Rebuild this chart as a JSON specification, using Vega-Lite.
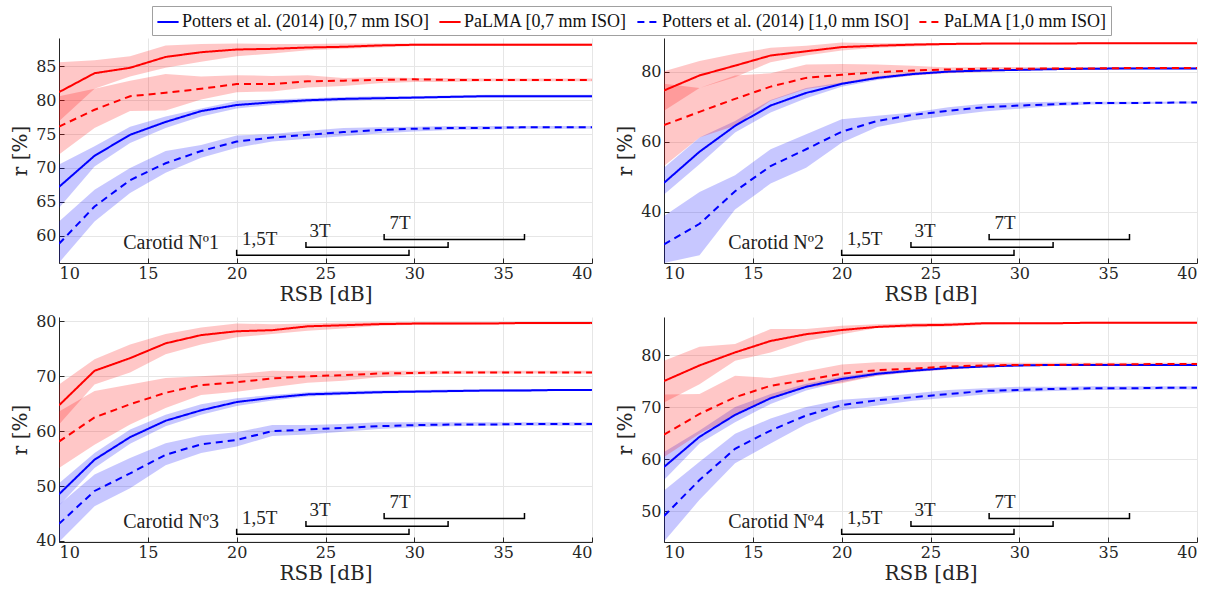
{
"$schema": "https://vega.github.io/schema/vega-lite/v6.json",
"padding": {"left": 10, "top": 5, "right": 5, "bottom": 5},
"datasets": {
"names": [
{"k":"A","s":"Potters et al. (2014) [0,7 mm ISO]"},
{"k":"B","s":"PaLMA [0,7 mm ISO]"},
{"k":"C","s":"Potters et al. (2014) [1,0 mm ISO]"},
{"k":"D","s":"PaLMA [1,0 mm ISO]"}
],
"ann": [
{"b":"a","o":1,"x":20,"f":0.059},{"b":"a","o":2,"x":20,"f":0.034},{"b":"a","o":3,"x":29.7,"f":0.034},{"b":"a","o":4,"x":29.7,"f":0.059},
{"b":"b","o":1,"x":23.9,"f":0.093},{"b":"b","o":2,"x":23.9,"f":0.070},{"b":"b","o":3,"x":31.9,"f":0.070},{"b":"b","o":4,"x":31.9,"f":0.093},
{"b":"c","o":1,"x":28.3,"f":0.129},{"b":"c","o":2,"x":28.3,"f":0.105},{"b":"c","o":3,"x":36.2,"f":0.105},{"b":"c","o":4,"x":36.2,"f":0.129}
],
"lab": [
{"t":"1,5T","x":20.3,"f":0.108},{"t":"3T","x":24.1,"f":0.141},{"t":"7T","x":28.6,"f":0.178}
],
"p1": [
{"k":"A","x":10,"r":67.2,"lo":64.1,"hi":70.5},{"k":"A","x":12,"r":71.8,"lo":70.2,"hi":73.2},{"k":"A","x":14,"r":74.9,"lo":73.7,"hi":76.1},{"k":"A","x":16,"r":76.8,"lo":75.9,"hi":77.6},{"k":"A","x":18,"r":78.4,"lo":77.6,"hi":78.8},{"k":"A","x":20,"r":79.3,"lo":78.8,"hi":79.9},{"k":"A","x":22,"r":79.7,"lo":79.3,"hi":80.1},{"k":"A","x":24,"r":80.0,"lo":79.7,"hi":80.3},{"k":"A","x":26,"r":80.2,"lo":79.9,"hi":80.5},{"k":"A","x":28,"r":80.3,"lo":80.1,"hi":80.6},{"k":"A","x":30,"r":80.4,"lo":80.2,"hi":80.6},{"k":"A","x":32,"r":80.5,"lo":80.3,"hi":80.7},{"k":"A","x":34,"r":80.6,"lo":80.4,"hi":80.8},{"k":"A","x":36,"r":80.6,"lo":80.4,"hi":80.8},{"k":"A","x":38,"r":80.6,"lo":80.4,"hi":80.8},{"k":"A","x":40,"r":80.6,"lo":80.4,"hi":80.8},
{"k":"B","x":10,"r":81.2,"lo":76.9,"hi":85.6},{"k":"B","x":12,"r":84.0,"lo":81.7,"hi":85.9},{"k":"B","x":14,"r":84.8,"lo":83.5,"hi":86.5},{"k":"B","x":16,"r":86.4,"lo":84.8,"hi":88.1},{"k":"B","x":18,"r":87.1,"lo":85.7,"hi":88.3},{"k":"B","x":20,"r":87.5,"lo":86.5,"hi":88.4},{"k":"B","x":22,"r":87.6,"lo":86.9,"hi":88.3},{"k":"B","x":24,"r":87.8,"lo":87.4,"hi":88.3},{"k":"B","x":26,"r":87.9,"lo":87.6,"hi":88.4},{"k":"B","x":28,"r":88.1,"lo":87.8,"hi":88.4},{"k":"B","x":30,"r":88.2,"lo":88.0,"hi":88.4},{"k":"B","x":32,"r":88.2,"lo":88.0,"hi":88.4},{"k":"B","x":34,"r":88.2,"lo":88.0,"hi":88.4},{"k":"B","x":36,"r":88.2,"lo":88.0,"hi":88.4},{"k":"B","x":38,"r":88.2,"lo":88.0,"hi":88.4},{"k":"B","x":40,"r":88.2,"lo":88.0,"hi":88.4},
{"k":"C","x":10,"r":58.8,"lo":56.0,"hi":62.1},{"k":"C","x":12,"r":64.3,"lo":62.1,"hi":66.8},{"k":"C","x":14,"r":68.2,"lo":66.3,"hi":70.0},{"k":"C","x":16,"r":70.7,"lo":69.3,"hi":72.5},{"k":"C","x":18,"r":72.5,"lo":71.5,"hi":73.4},{"k":"C","x":20,"r":73.9,"lo":73.0,"hi":74.8},{"k":"C","x":22,"r":74.5,"lo":73.9,"hi":75.0},{"k":"C","x":24,"r":74.9,"lo":74.3,"hi":75.5},{"k":"C","x":26,"r":75.3,"lo":74.7,"hi":75.9},{"k":"C","x":28,"r":75.6,"lo":75.1,"hi":76.0},{"k":"C","x":30,"r":75.8,"lo":75.4,"hi":76.1},{"k":"C","x":32,"r":75.9,"lo":75.6,"hi":76.2},{"k":"C","x":34,"r":75.9,"lo":75.7,"hi":76.2},{"k":"C","x":36,"r":76.0,"lo":75.8,"hi":76.2},{"k":"C","x":38,"r":76.0,"lo":75.8,"hi":76.2},{"k":"C","x":40,"r":76.0,"lo":75.8,"hi":76.2},
{"k":"D","x":10,"r":76.1,"lo":72.0,"hi":80.6},{"k":"D","x":12,"r":78.6,"lo":75.9,"hi":81.7},{"k":"D","x":14,"r":80.6,"lo":78.4,"hi":82.9},{"k":"D","x":16,"r":81.1,"lo":78.5,"hi":83.9},{"k":"D","x":18,"r":81.7,"lo":80.1,"hi":83.5},{"k":"D","x":20,"r":82.4,"lo":81.2,"hi":83.7},{"k":"D","x":22,"r":82.4,"lo":81.3,"hi":83.6},{"k":"D","x":24,"r":82.8,"lo":81.9,"hi":83.7},{"k":"D","x":26,"r":82.9,"lo":82.1,"hi":83.3},{"k":"D","x":28,"r":83.0,"lo":82.5,"hi":83.4},{"k":"D","x":30,"r":83.1,"lo":82.7,"hi":83.3},{"k":"D","x":32,"r":83.0,"lo":82.7,"hi":83.3},{"k":"D","x":34,"r":83.0,"lo":82.8,"hi":83.2},{"k":"D","x":36,"r":83.0,"lo":82.8,"hi":83.2},{"k":"D","x":38,"r":83.0,"lo":82.8,"hi":83.2},{"k":"D","x":40,"r":83.0,"lo":82.8,"hi":83.2}
],
"p2": [
{"k":"A","x":10,"r":48.2,"lo":44.9,"hi":52.5},{"k":"A","x":12,"r":57.1,"lo":53.5,"hi":61.2},{"k":"A","x":14,"r":64.5,"lo":62.6,"hi":65.9},{"k":"A","x":16,"r":70.3,"lo":68.3,"hi":71.9},{"k":"A","x":18,"r":73.9,"lo":72.4,"hi":75.3},{"k":"A","x":20,"r":76.5,"lo":75.7,"hi":76.9},{"k":"A","x":22,"r":78.2,"lo":77.6,"hi":78.7},{"k":"A","x":24,"r":79.3,"lo":78.9,"hi":79.7},{"k":"A","x":26,"r":80.0,"lo":79.7,"hi":80.3},{"k":"A","x":28,"r":80.3,"lo":80.1,"hi":80.5},{"k":"A","x":30,"r":80.5,"lo":80.3,"hi":80.7},{"k":"A","x":32,"r":80.7,"lo":80.5,"hi":80.9},{"k":"A","x":34,"r":80.8,"lo":80.6,"hi":81.0},{"k":"A","x":36,"r":80.9,"lo":80.7,"hi":81.1},{"k":"A","x":38,"r":80.9,"lo":80.7,"hi":81.1},{"k":"A","x":40,"r":80.9,"lo":80.7,"hi":81.1},
{"k":"B","x":10,"r":74.6,"lo":68.8,"hi":80.1},{"k":"B","x":12,"r":78.9,"lo":75.3,"hi":83.0},{"k":"B","x":14,"r":81.7,"lo":78.4,"hi":85.1},{"k":"B","x":16,"r":84.6,"lo":82.7,"hi":86.8},{"k":"B","x":18,"r":85.8,"lo":84.6,"hi":87.4},{"k":"B","x":20,"r":87.0,"lo":86.0,"hi":88.3},{"k":"B","x":22,"r":87.4,"lo":86.8,"hi":88.1},{"k":"B","x":24,"r":87.7,"lo":87.2,"hi":88.2},{"k":"B","x":26,"r":87.9,"lo":87.5,"hi":88.2},{"k":"B","x":28,"r":88.0,"lo":87.7,"hi":88.2},{"k":"B","x":30,"r":88.0,"lo":87.8,"hi":88.2},{"k":"B","x":32,"r":88.0,"lo":87.8,"hi":88.2},{"k":"B","x":34,"r":88.1,"lo":87.9,"hi":88.3},{"k":"B","x":36,"r":88.1,"lo":87.9,"hi":88.3},{"k":"B","x":38,"r":88.1,"lo":87.9,"hi":88.3},{"k":"B","x":40,"r":88.1,"lo":87.9,"hi":88.3},
{"k":"C","x":10,"r":30.6,"lo":25.3,"hi":38.7},{"k":"C","x":12,"r":36.5,"lo":27.5,"hi":45.6},{"k":"C","x":14,"r":45.8,"lo":40.6,"hi":50.4},{"k":"C","x":16,"r":53.0,"lo":48.0,"hi":57.8},{"k":"C","x":18,"r":57.8,"lo":52.5,"hi":62.1},{"k":"C","x":20,"r":62.8,"lo":59.7,"hi":66.4},{"k":"C","x":22,"r":65.9,"lo":64.2,"hi":67.4},{"k":"C","x":24,"r":67.6,"lo":66.1,"hi":68.3},{"k":"C","x":26,"r":68.8,"lo":67.4,"hi":69.8},{"k":"C","x":28,"r":69.8,"lo":68.6,"hi":70.8},{"k":"C","x":30,"r":70.3,"lo":69.4,"hi":71.2},{"k":"C","x":32,"r":70.7,"lo":70.2,"hi":71.4},{"k":"C","x":34,"r":71.0,"lo":70.6,"hi":71.4},{"k":"C","x":36,"r":71.0,"lo":70.7,"hi":71.4},{"k":"C","x":38,"r":71.1,"lo":70.8,"hi":71.4},{"k":"C","x":40,"r":71.2,"lo":70.9,"hi":71.5},
{"k":"D","x":10,"r":64.7,"lo":53.0,"hi":76.5},{"k":"D","x":12,"r":68.5,"lo":61.2,"hi":75.3},{"k":"D","x":14,"r":72.2,"lo":64.5,"hi":78.9},{"k":"D","x":16,"r":75.7,"lo":71.7,"hi":79.5},{"k":"D","x":18,"r":78.2,"lo":75.0,"hi":82.0},{"k":"D","x":20,"r":79.1,"lo":76.5,"hi":82.2},{"k":"D","x":22,"r":79.8,"lo":77.9,"hi":82.0},{"k":"D","x":24,"r":80.3,"lo":78.9,"hi":81.7},{"k":"D","x":26,"r":80.6,"lo":79.5,"hi":81.2},{"k":"D","x":28,"r":80.8,"lo":79.9,"hi":81.3},{"k":"D","x":30,"r":80.8,"lo":80.3,"hi":81.3},{"k":"D","x":32,"r":80.9,"lo":80.5,"hi":81.3},{"k":"D","x":34,"r":80.9,"lo":80.6,"hi":81.3},{"k":"D","x":36,"r":81.0,"lo":80.7,"hi":81.3},{"k":"D","x":38,"r":81.0,"lo":80.7,"hi":81.3},{"k":"D","x":40,"r":81.0,"lo":80.7,"hi":81.3}
],
"p3": [
{"k":"A","x":10,"r":48.5,"lo":46.4,"hi":50.5},{"k":"A","x":12,"r":54.8,"lo":53.3,"hi":56.0},{"k":"A","x":14,"r":58.9,"lo":57.7,"hi":60.3},{"k":"A","x":16,"r":61.9,"lo":60.9,"hi":63.0},{"k":"A","x":18,"r":63.8,"lo":63.0,"hi":64.9},{"k":"A","x":20,"r":65.3,"lo":64.6,"hi":66.0},{"k":"A","x":22,"r":66.1,"lo":65.6,"hi":66.6},{"k":"A","x":24,"r":66.7,"lo":66.3,"hi":67.1},{"k":"A","x":26,"r":66.9,"lo":66.6,"hi":67.3},{"k":"A","x":28,"r":67.1,"lo":66.8,"hi":67.4},{"k":"A","x":30,"r":67.2,"lo":67.0,"hi":67.5},{"k":"A","x":32,"r":67.3,"lo":67.1,"hi":67.6},{"k":"A","x":34,"r":67.4,"lo":67.2,"hi":67.6},{"k":"A","x":36,"r":67.4,"lo":67.2,"hi":67.7},{"k":"A","x":38,"r":67.5,"lo":67.3,"hi":67.7},{"k":"A","x":40,"r":67.5,"lo":67.3,"hi":67.7},
{"k":"B","x":10,"r":64.7,"lo":61.2,"hi":68.5},{"k":"B","x":12,"r":71.0,"lo":68.5,"hi":73.1},{"k":"B","x":14,"r":73.3,"lo":70.7,"hi":75.8},{"k":"B","x":16,"r":76.0,"lo":74.0,"hi":77.7},{"k":"B","x":18,"r":77.5,"lo":75.8,"hi":78.9},{"k":"B","x":20,"r":78.2,"lo":77.1,"hi":79.6},{"k":"B","x":22,"r":78.4,"lo":77.7,"hi":79.5},{"k":"B","x":24,"r":79.1,"lo":78.3,"hi":79.6},{"k":"B","x":26,"r":79.3,"lo":78.7,"hi":79.8},{"k":"B","x":28,"r":79.5,"lo":79.2,"hi":79.9},{"k":"B","x":30,"r":79.6,"lo":79.4,"hi":79.9},{"k":"B","x":32,"r":79.6,"lo":79.4,"hi":79.9},{"k":"B","x":34,"r":79.6,"lo":79.5,"hi":79.9},{"k":"B","x":36,"r":79.7,"lo":79.5,"hi":79.9},{"k":"B","x":38,"r":79.7,"lo":79.5,"hi":79.9},{"k":"B","x":40,"r":79.7,"lo":79.5,"hi":79.9},
{"k":"C","x":10,"r":43.1,"lo":39.8,"hi":46.6},{"k":"C","x":12,"r":49.1,"lo":46.3,"hi":52.1},{"k":"C","x":14,"r":52.3,"lo":49.6,"hi":55.1},{"k":"C","x":16,"r":55.7,"lo":53.8,"hi":57.8},{"k":"C","x":18,"r":57.6,"lo":56.0,"hi":59.2},{"k":"C","x":20,"r":58.4,"lo":57.2,"hi":59.8},{"k":"C","x":22,"r":60.0,"lo":59.1,"hi":61.1},{"k":"C","x":24,"r":60.3,"lo":59.4,"hi":61.1},{"k":"C","x":26,"r":60.6,"lo":59.9,"hi":61.3},{"k":"C","x":28,"r":60.9,"lo":60.4,"hi":61.6},{"k":"C","x":30,"r":61.1,"lo":60.7,"hi":61.6},{"k":"C","x":32,"r":61.2,"lo":60.9,"hi":61.6},{"k":"C","x":34,"r":61.2,"lo":61.0,"hi":61.6},{"k":"C","x":36,"r":61.3,"lo":61.0,"hi":61.6},{"k":"C","x":38,"r":61.3,"lo":61.0,"hi":61.6},{"k":"C","x":40,"r":61.3,"lo":61.0,"hi":61.6},
{"k":"D","x":10,"r":58.1,"lo":53.3,"hi":63.6},{"k":"D","x":12,"r":62.5,"lo":57.5,"hi":67.3},{"k":"D","x":14,"r":64.9,"lo":61.2,"hi":68.5},{"k":"D","x":16,"r":67.0,"lo":64.2,"hi":69.7},{"k":"D","x":18,"r":68.4,"lo":66.6,"hi":70.0},{"k":"D","x":20,"r":68.9,"lo":67.2,"hi":70.4},{"k":"D","x":22,"r":69.6,"lo":68.0,"hi":71.0},{"k":"D","x":24,"r":70.0,"lo":68.8,"hi":70.9},{"k":"D","x":26,"r":70.2,"lo":69.2,"hi":71.0},{"k":"D","x":28,"r":70.5,"lo":69.8,"hi":71.0},{"k":"D","x":30,"r":70.6,"lo":70.3,"hi":71.0},{"k":"D","x":32,"r":70.7,"lo":70.4,"hi":71.0},{"k":"D","x":34,"r":70.7,"lo":70.5,"hi":71.0},{"k":"D","x":36,"r":70.7,"lo":70.5,"hi":71.0},{"k":"D","x":38,"r":70.7,"lo":70.5,"hi":71.0},{"k":"D","x":40,"r":70.7,"lo":70.5,"hi":71.0}
],
"p4": [
{"k":"A","x":10,"r":58.5,"lo":56.0,"hi":61.4},{"k":"A","x":12,"r":64.3,"lo":63.0,"hi":65.5},{"k":"A","x":14,"r":68.5,"lo":67.1,"hi":70.0},{"k":"A","x":16,"r":71.7,"lo":70.6,"hi":72.5},{"k":"A","x":18,"r":73.9,"lo":73.2,"hi":74.5},{"k":"A","x":20,"r":75.4,"lo":74.8,"hi":75.9},{"k":"A","x":22,"r":76.4,"lo":76.0,"hi":76.8},{"k":"A","x":24,"r":77.0,"lo":76.7,"hi":77.3},{"k":"A","x":26,"r":77.5,"lo":77.2,"hi":77.7},{"k":"A","x":28,"r":77.8,"lo":77.6,"hi":78.0},{"k":"A","x":30,"r":78.0,"lo":77.8,"hi":78.2},{"k":"A","x":32,"r":78.1,"lo":77.9,"hi":78.3},{"k":"A","x":34,"r":78.1,"lo":77.9,"hi":78.3},{"k":"A","x":36,"r":78.1,"lo":77.9,"hi":78.3},{"k":"A","x":38,"r":78.1,"lo":77.9,"hi":78.3},{"k":"A","x":40,"r":78.1,"lo":77.9,"hi":78.3},
{"k":"B","x":10,"r":75.0,"lo":70.9,"hi":78.9},{"k":"B","x":12,"r":78.0,"lo":74.4,"hi":81.6},{"k":"B","x":14,"r":80.5,"lo":78.9,"hi":82.1},{"k":"B","x":16,"r":82.7,"lo":80.5,"hi":85.0},{"k":"B","x":18,"r":84.0,"lo":82.7,"hi":85.0},{"k":"B","x":20,"r":84.8,"lo":84.0,"hi":85.6},{"k":"B","x":22,"r":85.4,"lo":85.2,"hi":85.9},{"k":"B","x":24,"r":85.7,"lo":85.3,"hi":86.1},{"k":"B","x":26,"r":85.8,"lo":85.5,"hi":86.2},{"k":"B","x":28,"r":86.1,"lo":85.8,"hi":86.3},{"k":"B","x":30,"r":86.1,"lo":85.9,"hi":86.3},{"k":"B","x":32,"r":86.1,"lo":85.9,"hi":86.3},{"k":"B","x":34,"r":86.2,"lo":86.0,"hi":86.4},{"k":"B","x":36,"r":86.2,"lo":86.0,"hi":86.4},{"k":"B","x":38,"r":86.2,"lo":86.0,"hi":86.4},{"k":"B","x":40,"r":86.2,"lo":86.0,"hi":86.4},
{"k":"C","x":10,"r":49.1,"lo":44.2,"hi":54.0},{"k":"C","x":12,"r":56.0,"lo":52.2,"hi":59.5},{"k":"C","x":14,"r":62.0,"lo":59.2,"hi":64.9},{"k":"C","x":16,"r":65.5,"lo":63.0,"hi":67.8},{"k":"C","x":18,"r":68.4,"lo":66.7,"hi":70.0},{"k":"C","x":20,"r":70.4,"lo":69.4,"hi":71.4},{"k":"C","x":22,"r":71.3,"lo":70.3,"hi":71.9},{"k":"C","x":24,"r":71.9,"lo":71.2,"hi":72.6},{"k":"C","x":26,"r":72.5,"lo":71.8,"hi":73.3},{"k":"C","x":28,"r":73.1,"lo":72.4,"hi":73.6},{"k":"C","x":30,"r":73.3,"lo":72.9,"hi":73.9},{"k":"C","x":32,"r":73.5,"lo":73.1,"hi":73.9},{"k":"C","x":34,"r":73.6,"lo":73.3,"hi":74.0},{"k":"C","x":36,"r":73.6,"lo":73.3,"hi":74.0},{"k":"C","x":38,"r":73.7,"lo":73.4,"hi":74.0},{"k":"C","x":40,"r":73.7,"lo":73.4,"hi":74.0},
{"k":"D","x":10,"r":64.7,"lo":60.4,"hi":72.4},{"k":"D","x":12,"r":68.7,"lo":64.9,"hi":72.5},{"k":"D","x":14,"r":71.9,"lo":68.4,"hi":76.0},{"k":"D","x":16,"r":74.1,"lo":71.8,"hi":75.6},{"k":"D","x":18,"r":75.2,"lo":73.7,"hi":76.9},{"k":"D","x":20,"r":76.4,"lo":74.6,"hi":78.2},{"k":"D","x":22,"r":77.1,"lo":76.0,"hi":78.6},{"k":"D","x":24,"r":77.4,"lo":76.8,"hi":78.6},{"k":"D","x":26,"r":77.8,"lo":77.2,"hi":78.7},{"k":"D","x":28,"r":78.0,"lo":77.6,"hi":78.6},{"k":"D","x":30,"r":78.1,"lo":77.8,"hi":78.5},{"k":"D","x":32,"r":78.1,"lo":77.9,"hi":78.5},{"k":"D","x":34,"r":78.2,"lo":78.0,"hi":78.5},{"k":"D","x":36,"r":78.2,"lo":78.0,"hi":78.5},{"k":"D","x":38,"r":78.3,"lo":78.0,"hi":78.5},{"k":"D","x":40,"r":78.3,"lo":78.0,"hi":78.5}
]
},
"columns": 2,
"bounds": "flush",
"spacing": {"row": 54, "column": 72},
"concat": [
{"width": 533, "height": 225,
 "resolve": {"scale": {"y": "independent"}, "axis": {"y": "independent"}},
 "layer": [
  {"data": {"name": "p1"},
   "transform": [{"lookup": "k", "from": {"data": {"name": "names"}, "key": "k", "fields": ["s"]}}],
   "layer": [
    {"mark": {"type": "area", "opacity": 0.22, "clip": true},
     "encoding": {
      "x": {"field": "x", "type": "quantitative", "title": "RSB [dB]", "scale": {"domain": [10, 40], "nice": false}, "axis": {"values": [10,15,20,25,30,35,40]}},
      "y": {"field": "lo", "type": "quantitative", "title": "r [%]", "scale": {"domain": [55.96, 89.2], "nice": false, "zero": false}, "axis": {"values": [60,65,70,75,80,85]}},
      "y2": {"field": "hi"},
      "fill": {"field": "k", "type": "nominal", "legend": null, "scale": {"domain": ["A","B","C","D"], "range": ["#0000ff", "#ff0000", "#0000ff", "#ff0000"]}}
     }},
    {"mark": {"type": "line", "strokeWidth": 2, "clip": true},
     "encoding": {
      "x": {"field": "x", "type": "quantitative", "title": "RSB [dB]", "scale": {"domain": [10, 40], "nice": false}},
      "y": {"field": "r", "type": "quantitative", "title": "r [%]", "scale": {"domain": [55.96, 89.2], "nice": false, "zero": false}},
      "color": {"field": "s", "type": "nominal", "title": null, "scale": {"domain": ["Potters et al. (2014) [0,7 mm ISO]", "PaLMA [0,7 mm ISO]", "Potters et al. (2014) [1,0 mm ISO]", "PaLMA [1,0 mm ISO]"], "range": ["#0000ff", "#ff0000", "#0000ff", "#ff0000"]}},
      "strokeDash": {"field": "s", "type": "nominal", "title": null, "scale": {"domain": ["Potters et al. (2014) [0,7 mm ISO]", "PaLMA [0,7 mm ISO]", "Potters et al. (2014) [1,0 mm ISO]", "PaLMA [1,0 mm ISO]"], "range": [[1,0], [1,0], [7,5], [7,5]]}}
     }}
   ]},
  {"layer": [
    {"data": {"name": "ann"}, "mark": {"type": "line", "color": "black", "strokeWidth": 1.5},
     "encoding": {"x": {"field": "x", "type": "quantitative"}, "y": {"field": "f", "type": "quantitative", "scale": {"domain": [0, 1]}, "axis": null}, "detail": {"field": "b"}, "order": {"field": "o"}}},
    {"data": {"name": "lab"}, "mark": {"type": "text", "align": "left", "baseline": "middle", "fontSize": 19, "font": "Liberation Serif", "color": "#222"},
     "encoding": {"x": {"field": "x", "type": "quantitative"}, "y": {"field": "f", "type": "quantitative", "scale": {"domain": [0, 1]}, "axis": null}, "text": {"field": "t"}}},
    {"data": {"values": [{"t": "Carotid Nº1", "x": 19.0, "f": 0.089}]}, "mark": {"type": "text", "align": "right", "baseline": "middle", "fontSize": 20, "font": "Liberation Serif", "color": "#222"},
     "encoding": {"x": {"field": "x", "type": "quantitative"}, "y": {"field": "f", "type": "quantitative", "scale": {"domain": [0, 1]}, "axis": null}, "text": {"field": "t"}}}
  ]}
 ]},
{"width": 533, "height": 225,
 "resolve": {"scale": {"y": "independent"}, "axis": {"y": "independent"}},
 "layer": [
  {"data": {"name": "p2"},
   "transform": [{"lookup": "k", "from": {"data": {"name": "names"}, "key": "k", "fields": ["s"]}}],
   "layer": [
    {"mark": {"type": "area", "opacity": 0.22, "clip": true},
     "encoding": {
      "x": {"field": "x", "type": "quantitative", "title": "RSB [dB]", "scale": {"domain": [10, 40], "nice": false}, "axis": {"values": [10,15,20,25,30,35,40]}},
      "y": {"field": "lo", "type": "quantitative", "title": "r [%]", "scale": {"domain": [25.3, 89.6], "nice": false, "zero": false}, "axis": {"values": [40,60,80]}},
      "y2": {"field": "hi"},
      "fill": {"field": "k", "type": "nominal", "legend": null, "scale": {"domain": ["A","B","C","D"], "range": ["#0000ff", "#ff0000", "#0000ff", "#ff0000"]}}
     }},
    {"mark": {"type": "line", "strokeWidth": 2, "clip": true},
     "encoding": {
      "x": {"field": "x", "type": "quantitative", "title": "RSB [dB]", "scale": {"domain": [10, 40], "nice": false}},
      "y": {"field": "r", "type": "quantitative", "title": "r [%]", "scale": {"domain": [25.3, 89.6], "nice": false, "zero": false}},
      "color": {"field": "s", "type": "nominal", "title": null, "scale": {"domain": ["Potters et al. (2014) [0,7 mm ISO]", "PaLMA [0,7 mm ISO]", "Potters et al. (2014) [1,0 mm ISO]", "PaLMA [1,0 mm ISO]"], "range": ["#0000ff", "#ff0000", "#0000ff", "#ff0000"]}},
      "strokeDash": {"field": "s", "type": "nominal", "title": null, "scale": {"domain": ["Potters et al. (2014) [0,7 mm ISO]", "PaLMA [0,7 mm ISO]", "Potters et al. (2014) [1,0 mm ISO]", "PaLMA [1,0 mm ISO]"], "range": [[1,0], [1,0], [7,5], [7,5]]}}
     }}
   ]},
  {"layer": [
    {"data": {"name": "ann"}, "mark": {"type": "line", "color": "black", "strokeWidth": 1.5},
     "encoding": {"x": {"field": "x", "type": "quantitative"}, "y": {"field": "f", "type": "quantitative", "scale": {"domain": [0, 1]}, "axis": null}, "detail": {"field": "b"}, "order": {"field": "o"}}},
    {"data": {"name": "lab"}, "mark": {"type": "text", "align": "left", "baseline": "middle", "fontSize": 19, "font": "Liberation Serif", "color": "#222"},
     "encoding": {"x": {"field": "x", "type": "quantitative"}, "y": {"field": "f", "type": "quantitative", "scale": {"domain": [0, 1]}, "axis": null}, "text": {"field": "t"}}},
    {"data": {"values": [{"t": "Carotid Nº2", "x": 19.0, "f": 0.089}]}, "mark": {"type": "text", "align": "right", "baseline": "middle", "fontSize": 20, "font": "Liberation Serif", "color": "#222"},
     "encoding": {"x": {"field": "x", "type": "quantitative"}, "y": {"field": "f", "type": "quantitative", "scale": {"domain": [0, 1]}, "axis": null}, "text": {"field": "t"}}}
  ]}
 ]},
{"width": 533, "height": 225,
 "resolve": {"scale": {"y": "independent"}, "axis": {"y": "independent"}},
 "layer": [
  {"data": {"name": "p3"},
   "transform": [{"lookup": "k", "from": {"data": {"name": "names"}, "key": "k", "fields": ["s"]}}],
   "layer": [
    {"mark": {"type": "area", "opacity": 0.22, "clip": true},
     "encoding": {
      "x": {"field": "x", "type": "quantitative", "title": "RSB [dB]", "scale": {"domain": [10, 40], "nice": false}, "axis": {"values": [10,15,20,25,30,35,40]}},
      "y": {"field": "lo", "type": "quantitative", "title": "r [%]", "scale": {"domain": [39.8, 80.8], "nice": false, "zero": false}, "axis": {"values": [40,50,60,70,80]}},
      "y2": {"field": "hi"},
      "fill": {"field": "k", "type": "nominal", "legend": null, "scale": {"domain": ["A","B","C","D"], "range": ["#0000ff", "#ff0000", "#0000ff", "#ff0000"]}}
     }},
    {"mark": {"type": "line", "strokeWidth": 2, "clip": true},
     "encoding": {
      "x": {"field": "x", "type": "quantitative", "title": "RSB [dB]", "scale": {"domain": [10, 40], "nice": false}},
      "y": {"field": "r", "type": "quantitative", "title": "r [%]", "scale": {"domain": [39.8, 80.8], "nice": false, "zero": false}},
      "color": {"field": "s", "type": "nominal", "title": null, "scale": {"domain": ["Potters et al. (2014) [0,7 mm ISO]", "PaLMA [0,7 mm ISO]", "Potters et al. (2014) [1,0 mm ISO]", "PaLMA [1,0 mm ISO]"], "range": ["#0000ff", "#ff0000", "#0000ff", "#ff0000"]}},
      "strokeDash": {"field": "s", "type": "nominal", "title": null, "scale": {"domain": ["Potters et al. (2014) [0,7 mm ISO]", "PaLMA [0,7 mm ISO]", "Potters et al. (2014) [1,0 mm ISO]", "PaLMA [1,0 mm ISO]"], "range": [[1,0], [1,0], [7,5], [7,5]]}}
     }}
   ]},
  {"layer": [
    {"data": {"name": "ann"}, "mark": {"type": "line", "color": "black", "strokeWidth": 1.5},
     "encoding": {"x": {"field": "x", "type": "quantitative"}, "y": {"field": "f", "type": "quantitative", "scale": {"domain": [0, 1]}, "axis": null}, "detail": {"field": "b"}, "order": {"field": "o"}}},
    {"data": {"name": "lab"}, "mark": {"type": "text", "align": "left", "baseline": "middle", "fontSize": 19, "font": "Liberation Serif", "color": "#222"},
     "encoding": {"x": {"field": "x", "type": "quantitative"}, "y": {"field": "f", "type": "quantitative", "scale": {"domain": [0, 1]}, "axis": null}, "text": {"field": "t"}}},
    {"data": {"values": [{"t": "Carotid Nº3", "x": 19.0, "f": 0.089}]}, "mark": {"type": "text", "align": "right", "baseline": "middle", "fontSize": 20, "font": "Liberation Serif", "color": "#222"},
     "encoding": {"x": {"field": "x", "type": "quantitative"}, "y": {"field": "f", "type": "quantitative", "scale": {"domain": [0, 1]}, "axis": null}, "text": {"field": "t"}}}
  ]}
 ]},
{"width": 533, "height": 225,
 "resolve": {"scale": {"y": "independent"}, "axis": {"y": "independent"}},
 "layer": [
  {"data": {"name": "p4"},
   "transform": [{"lookup": "k", "from": {"data": {"name": "names"}, "key": "k", "fields": ["s"]}}],
   "layer": [
    {"mark": {"type": "area", "opacity": 0.22, "clip": true},
     "encoding": {
      "x": {"field": "x", "type": "quantitative", "title": "RSB [dB]", "scale": {"domain": [10, 40], "nice": false}, "axis": {"values": [10,15,20,25,30,35,40]}},
      "y": {"field": "lo", "type": "quantitative", "title": "r [%]", "scale": {"domain": [44.1, 87.3], "nice": false, "zero": false}, "axis": {"values": [50,60,70,80]}},
      "y2": {"field": "hi"},
      "fill": {"field": "k", "type": "nominal", "legend": null, "scale": {"domain": ["A","B","C","D"], "range": ["#0000ff", "#ff0000", "#0000ff", "#ff0000"]}}
     }},
    {"mark": {"type": "line", "strokeWidth": 2, "clip": true},
     "encoding": {
      "x": {"field": "x", "type": "quantitative", "title": "RSB [dB]", "scale": {"domain": [10, 40], "nice": false}},
      "y": {"field": "r", "type": "quantitative", "title": "r [%]", "scale": {"domain": [44.1, 87.3], "nice": false, "zero": false}},
      "color": {"field": "s", "type": "nominal", "title": null, "scale": {"domain": ["Potters et al. (2014) [0,7 mm ISO]", "PaLMA [0,7 mm ISO]", "Potters et al. (2014) [1,0 mm ISO]", "PaLMA [1,0 mm ISO]"], "range": ["#0000ff", "#ff0000", "#0000ff", "#ff0000"]}},
      "strokeDash": {"field": "s", "type": "nominal", "title": null, "scale": {"domain": ["Potters et al. (2014) [0,7 mm ISO]", "PaLMA [0,7 mm ISO]", "Potters et al. (2014) [1,0 mm ISO]", "PaLMA [1,0 mm ISO]"], "range": [[1,0], [1,0], [7,5], [7,5]]}}
     }}
   ]},
  {"layer": [
    {"data": {"name": "ann"}, "mark": {"type": "line", "color": "black", "strokeWidth": 1.5},
     "encoding": {"x": {"field": "x", "type": "quantitative"}, "y": {"field": "f", "type": "quantitative", "scale": {"domain": [0, 1]}, "axis": null}, "detail": {"field": "b"}, "order": {"field": "o"}}},
    {"data": {"name": "lab"}, "mark": {"type": "text", "align": "left", "baseline": "middle", "fontSize": 19, "font": "Liberation Serif", "color": "#222"},
     "encoding": {"x": {"field": "x", "type": "quantitative"}, "y": {"field": "f", "type": "quantitative", "scale": {"domain": [0, 1]}, "axis": null}, "text": {"field": "t"}}},
    {"data": {"values": [{"t": "Carotid Nº4", "x": 19.0, "f": 0.089}]}, "mark": {"type": "text", "align": "right", "baseline": "middle", "fontSize": 20, "font": "Liberation Serif", "color": "#222"},
     "encoding": {"x": {"field": "x", "type": "quantitative"}, "y": {"field": "f", "type": "quantitative", "scale": {"domain": [0, 1]}, "axis": null}, "text": {"field": "t"}}}
  ]}
 ]}
],
"config": {
 "font": "Liberation Serif",
 "view": {"stroke": null},
 "style": {"guide-label": {"font": "DejaVu Serif"}, "guide-title": {"font": "DejaVu Serif"}},
 "axis": {"labelFont": "DejaVu Serif", "titleFont": "DejaVu Serif", "labelFontSize": 16, "titleFontSize": 20, "titleFontWeight": "normal", "labelFontWeight": "normal", "labelColor": "#262626", "titleColor": "#262626", "domainColor": "#262626", "tickColor": "#262626", "gridColor": "#e6e6e6", "tickSize": -5},
 "axisX": {"titlePadding": 3, "labelPadding": 7},
 "axisY": {"titlePadding": 5, "labelPadding": 8},
 "legend": {"orient": "none", "legendX": 93, "legendY": -32, "direction": "horizontal", "symbolType": "stroke", "symbolStrokeWidth": 2, "symbolSize": 450, "labelFont": "Liberation Serif", "labelFontSize": 18, "labelColor": "#111", "labelLimit": 400, "columnPadding": 6, "labelOffset": 2, "strokeColor": "#a0a0a0", "padding": 4}
}
}
